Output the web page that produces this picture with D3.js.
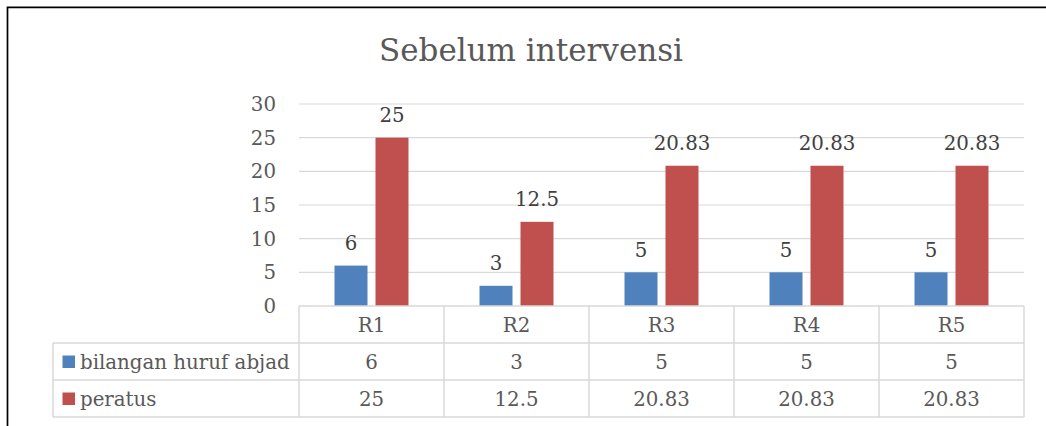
<!DOCTYPE html>
<html>
<head>
<meta charset="utf-8">
<script src="https://cdn.jsdelivr.net/npm/d3@7"></script>
<style>
  html, body { margin: 0; padding: 0; background: #fff; }
  svg text { font-family: 'DejaVu Serif', serif; }
</style>
</head>
<body>
<div id="chart"></div>
<script>
// chart data
const categories = ['R1', 'R2', 'R3', 'R4', 'R5'];
const seriesNames = ['bilangan huruf abjad', 'peratus'];
const bilanganValues = [6, 3, 5, 5, 5];
const peratusValues = [25, 12.5, 20.83, 20.83, 20.83];
const yTicks = [0, 5, 10, 15, 20, 25, 30];
const title = 'Sebelum intervensi';

const seriesColors = ['#4F81BD', '#C0504D'];
const seriesValues = [bilanganValues, peratusValues];

const width = 1046;
const height = 426;
const textColor = '#595959';
const gridColor = '#D9D9D9';
const fontSize = '19.8px';

const svg = d3
  .select('#chart')
  .append('svg')
  .attr('width', width)
  .attr('height', height);

// plot area
const plot = {left: 299, right: 1024, top: 104, bottom: 306};
const rowH = 37;

const x0 = d3.scaleBand().domain(categories).range([plot.left, plot.right]);
const groupW = 74;
const x1 = d3
  .scaleBand()
  .domain(seriesNames)
  .range([(x0.bandwidth() - groupW) / 2, (x0.bandwidth() + groupW) / 2])
  .paddingInner(0.195);
const y = d3.scaleLinear().domain([0, 30]).range([plot.bottom, plot.top]);

// outer frame (cropped chart border)
svg
  .append('path')
  .attr('d', `M7.5,${height} V7.3 H${width}`)
  .attr('fill', 'none')
  .attr('stroke', '#000')
  .attr('stroke-width', 1.7);

// title
svg
  .append('text')
  .attr('x', 531)
  .attr('y', 61)
  .attr('text-anchor', 'middle')
  .style('font-size', '31px')
  .style('fill', textColor)
  .text(title);

// y gridlines
svg
  .append('g')
  .selectAll('line')
  .data(yTicks.filter(d => d > 0))
  .join('line')
  .attr('x1', plot.left)
  .attr('x2', plot.right)
  .attr('y1', d => y(d))
  .attr('y2', d => y(d))
  .attr('stroke', gridColor)
  .attr('stroke-width', 1.2);

// y axis labels
svg
  .append('g')
  .selectAll('text')
  .data(yTicks)
  .join('text')
  .attr('x', 276)
  .attr('y', d => y(d) + 7)
  .attr('text-anchor', 'end')
  .style('font-size', fontSize)
  .style('fill', textColor)
  .text(d => d);

// bars
const groups = svg
  .append('g')
  .selectAll('g')
  .data(seriesNames)
  .join('g')
  .attr('fill', (d, i) => seriesColors[i]);

groups
  .selectAll('rect')
  .data((s, si) => categories.map((c, ci) => ({s, c, v: seriesValues[si][ci]})))
  .join('rect')
  .attr('x', d => x0(d.c) + x1(d.s))
  .attr('width', x1.bandwidth())
  .attr('y', d => y(d.v))
  .attr('height', d => y(0) - y(d.v));

// data labels
groups
  .selectAll('text')
  .data((s, si) => categories.map((c, ci) => ({s, c, v: seriesValues[si][ci]})))
  .join('text')
  .attr('x', d => x0(d.c) + x1(d.s) + x1.bandwidth() / 2)
  .attr('y', d => y(d.v) - 15.5)
  .attr('text-anchor', 'middle')
  .style('font-size', fontSize)
  .style('fill', '#404040')
  .text(d => d.v);

// data table
const table = svg.append('g');
const tableLeft = 53;
const rowTops = [plot.bottom, plot.bottom + rowH, plot.bottom + 2 * rowH, plot.bottom + 3 * rowH];

// horizontal lines
table
  .selectAll('line.h')
  .data(rowTops)
  .join('line')
  .attr('class', 'h')
  .attr('x1', (d, i) => (i === 0 ? plot.left : tableLeft))
  .attr('x2', plot.right)
  .attr('y1', d => d)
  .attr('y2', d => d)
  .attr('stroke', gridColor)
  .attr('stroke-width', 1.5);

// vertical lines
const colEdges = categories.map(c => x0(c)).concat([plot.right]);
table
  .selectAll('line.v')
  .data(colEdges)
  .join('line')
  .attr('class', 'v')
  .attr('x1', d => d)
  .attr('x2', d => d)
  .attr('y1', rowTops[0])
  .attr('y2', rowTops[3])
  .attr('stroke', gridColor)
  .attr('stroke-width', 1.5);

table
  .append('line')
  .attr('x1', tableLeft)
  .attr('x2', tableLeft)
  .attr('y1', rowTops[1])
  .attr('y2', rowTops[3])
  .attr('stroke', gridColor)
  .attr('stroke-width', 1.5);

// category labels
table
  .selectAll('text.cat')
  .data(categories)
  .join('text')
  .attr('class', 'cat')
  .attr('x', d => x0(d) + x0.bandwidth() / 2)
  .attr('y', rowTops[0] + 26)
  .attr('text-anchor', 'middle')
  .style('font-size', fontSize)
  .style('fill', textColor)
  .text(d => d);

// series rows
seriesNames.forEach((name, si) => {
  const top = rowTops[si + 1];
  table
    .append('rect')
    .attr('x', 62.5)
    .attr('y', top + 12.5)
    .attr('width', 12.5)
    .attr('height', 12.5)
    .attr('fill', seriesColors[si]);
  table
    .append('text')
    .attr('x', 80)
    .attr('y', top + 26)
    .style('font-size', fontSize)
    .style('fill', textColor)
    .text(name);
  table
    .append('g')
    .selectAll('text')
    .data(seriesValues[si])
    .join('text')
    .attr('x', (d, i) => x0(categories[i]) + x0.bandwidth() / 2)
    .attr('y', top + 26)
    .attr('text-anchor', 'middle')
    .style('font-size', fontSize)
    .style('fill', textColor)
    .text(d => d);
});
</script>
</body>
</html>
